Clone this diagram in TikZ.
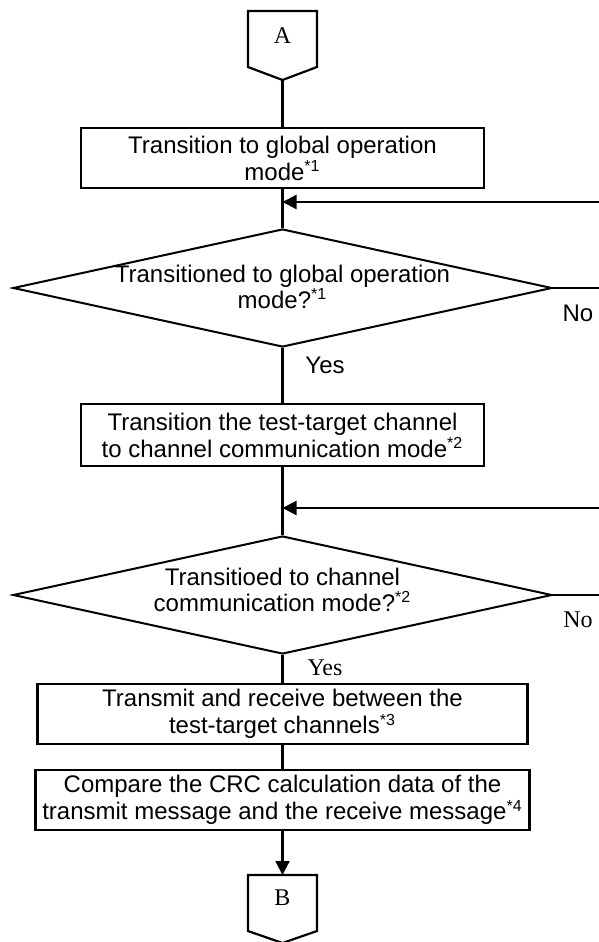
\documentclass[tikz,border=0pt]{standalone}
\usepackage{fontspec}
\setmainfont{Liberation Serif}
\setsansfont{Liberation Sans}
\usetikzlibrary{shapes.geometric,arrows.meta}
\tikzset{
  procbox/.style={draw, line width=1.1pt, rectangle, inner sep=0pt, align=center, font=\sffamily\fontsize{12}{13.5}\selectfont},
  decbox/.style={draw, line width=1pt, diamond, inner sep=0pt},
  dectext/.style={align=center, font=\sffamily\fontsize{12}{13}\selectfont},
  conn/.style={line width=1.1pt},
  arr/.style={line width=1.1pt, -{Triangle[length=7pt,width=7pt]}},
  offpage/.style={draw, line width=1.1pt},
  sflab/.style={font=\sffamily\fontsize{12}{14}\selectfont},
  rmlab/.style={font=\rmfamily\fontsize{12}{14}\selectfont}
}
\begin{document}
\begin{tikzpicture}[x=0.5pt,y=-0.5pt]
\useasboundingbox (0,0) rectangle (599,942);
% connector A
\draw[offpage] (248,11) -- (317,11) -- (317,67) -- (282.5,80) -- (248,67) -- cycle;
\node[rmlab] (A) at (282.5,36) {A};
\coordinate (Abot) at (282.5,80);
% boxes
\node[procbox, minimum width=201.5pt, minimum height=30pt] (b1) at (282.5,158) {Transition to global operation\\mode\textsuperscript{*1}};
\node[decbox, minimum width=269.5pt, minimum height=59pt] (d1) at (282.5,288) {};
\node[dectext] (d1t) at (282.5,287) {Transitioned to global operation\\mode?\textsuperscript{*1}};
\node[procbox, minimum width=201.5pt, minimum height=31pt] (b2) at (282.5,435) {Transition the test-target channel\\to channel communication mode\textsuperscript{*2}};
\node[decbox, minimum width=269.5pt, minimum height=59pt] (d2) at (282.5,595) {};
\node[dectext] (d2t) at (282.5,590) {Transitioed to channel\\communication mode?\textsuperscript{*2}};
\node[procbox, minimum width=245pt, minimum height=30pt] (b3) at (282.5,714) {Transmit and receive between the\\test-target channels\textsuperscript{*3}};
\node[procbox, minimum width=247pt, minimum height=30pt] (b4) at (282.5,800) {Compare the CRC calculation data of the\\transmit message and the receive message\textsuperscript{*4}};
% connector B
\draw[offpage] (248,875) -- (317,875) -- (317,931) -- (282.5,943) -- (248,931) -- cycle;
\node[rmlab] (B) at (282.5,898) {B};
\coordinate (Btop) at (282.5,875);
% labels
\node[sflab] (no1) at (578,313) {No};
\node[sflab] (yes1) at (325,365) {Yes};
\node[rmlab] (no2) at (578,620) {No};
\node[rmlab] (yes2) at (325,668) {Yes};
% loop-back entries
\coordinate (r1) at (600,202);
\coordinate (j1) at (282.5,202);
\coordinate (r2) at (600,508);
\coordinate (j2) at (282.5,508);
\coordinate (e1) at (600,288);
\coordinate (e2) at (600,595);
% connectors
\draw[conn] (Abot) -- (b1.north);
\draw[conn] (b1.south) -- (d1.north);
\draw[arr] (r1) -- (j1);
\draw[conn] (d1.east) -- (e1);
\draw[conn] (d1.south) -- (b2.north);
\draw[conn] (b2.south) -- (d2.north);
\draw[arr] (r2) -- (j2);
\draw[conn] (d2.east) -- (e2);
\draw[conn] (d2.south) -- (b3.north);
\draw[conn] (b3.south) -- (b4.north);
\draw[arr] (b4.south) -- (Btop);
\end{tikzpicture}
\end{document}
